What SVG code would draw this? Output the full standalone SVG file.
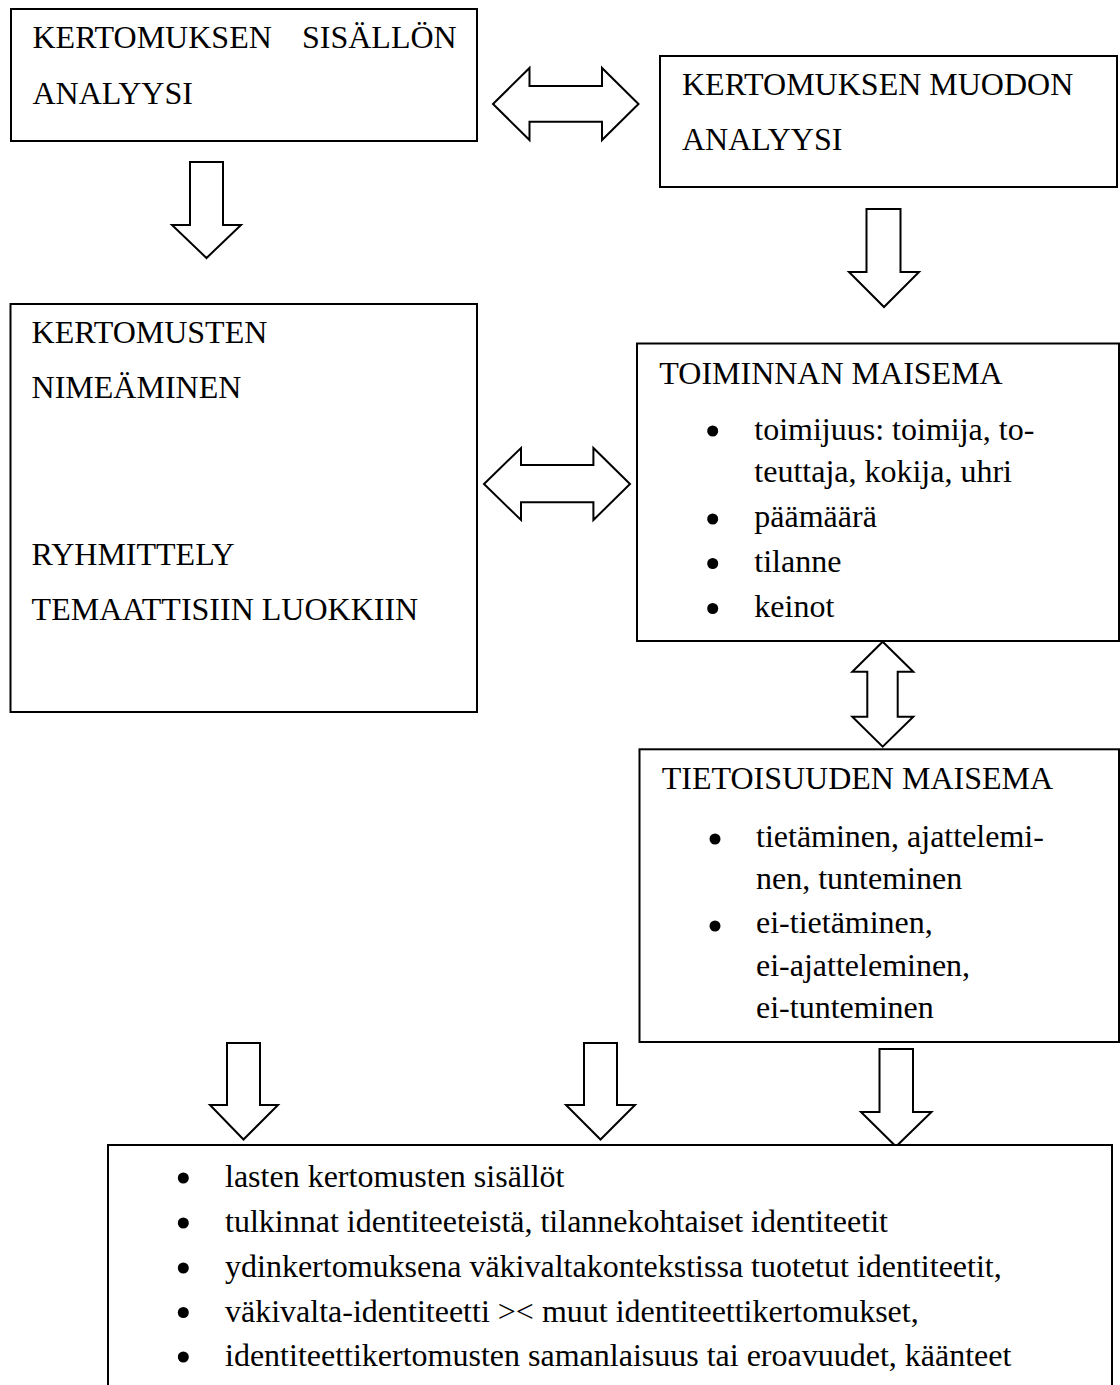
<svg xmlns="http://www.w3.org/2000/svg" width="1120" height="1385" viewBox="0 0 1120 1385">
<style>
.box{fill:#fff;stroke:#000;stroke-width:2}
.arr{fill:#fff;stroke:#000;stroke-width:2;stroke-linejoin:miter}
text{font-family:"Liberation Serif","Times New Roman",serif;font-size:32px;fill:#000}
.bul{fill:#000}
</style>
<rect width="1120" height="1385" fill="#fff"/>
<g id="connectors">
<path class="arr" d="M190,162 H223 V225 H241 L206.5,258 L172,225 H190 Z"/>
<path class="arr" d="M866.5,209 H900.5 V272 H919 L884,307 L849,272 H866.5 Z"/>
<path class="arr" d="M493,104 L529.5,68 V86 H602 V68 L638.5,104 L602,140 V121.7 H529.5 V140 Z"/>
<path class="arr" d="M484,484 L521,448 V465 H593.4 V448 L630,484 L593.4,520 V502.3 H521 V520 Z"/>
<path class="arr" d="M882.7,641.7 L913.3,671.7 H897.7 V716.7 H913.3 L882.7,746.7 L852.3,716.7 H867.3 V671.7 H852.3 Z"/>
<path class="arr" d="M227,1043 H260 V1105 H278 L243.5,1139.5 L210,1105 H227 Z"/>
<path class="arr" d="M584,1043 H617 V1105 H635 L600.5,1139.5 L566,1105 H584 Z"/>
<path class="arr" d="M879.5,1049 H913 V1112 H931.5 L896,1146.5 L861,1112 H879.5 Z"/>
</g>
<g id="sisallon">
<rect class="box" x="11" y="9" width="466" height="132"/>
<text y="48.3"><tspan x="32.5">KERTOMUKSEN</tspan><tspan x="302">SISÄLLÖN</tspan></text>
<text x="32.5" y="104">ANALYYSI</text>
</g>
<g id="muodon">
<rect class="box" x="660" y="56" width="457" height="131"/>
<text x="682" y="95">KERTOMUKSEN MUODON</text>
<text x="682" y="150">ANALYYSI</text>
</g>
<g id="nimeaminen">
<rect class="box" x="10.5" y="304" width="466.5" height="408"/>
<text x="31.6" y="343.3">KERTOMUSTEN</text>
<text x="31.6" y="398.3">NIMEÄMINEN</text>
<text x="31.6" y="565">RYHMITTELY</text>
<text x="31.6" y="620">TEMAATTISIIN LUOKKIIN</text>
</g>
<g id="toiminnan">
<rect class="box" x="637" y="343.5" width="482" height="297.5"/>
<text x="659.3" y="383.5">TOIMINNAN MAISEMA</text>
<circle class="bul" cx="712.7" cy="431" r="5.5"/>
<text x="754.3" y="440">toimijuus: toimija, to-</text>
<text x="754.3" y="482">teuttaja, kokija, uhri</text>
<circle class="bul" cx="712.7" cy="519" r="5.5"/>
<text x="754.3" y="527.3">päämäärä</text>
<circle class="bul" cx="712.7" cy="563.5" r="5.5"/>
<text x="754.3" y="572">tilanne</text>
<circle class="bul" cx="712.7" cy="608.5" r="5.5"/>
<text x="754.3" y="616.7">keinot</text>
</g>
<g id="tietoisuuden">
<rect class="box" x="639.5" y="749.3" width="479.5" height="292.7"/>
<text x="661.7" y="789.3">TIETOISUUDEN MAISEMA</text>
<circle class="bul" cx="715" cy="839" r="5.5"/>
<text x="756" y="846.5">tietäminen, ajattelemi-</text>
<text x="756" y="889">nen, tunteminen</text>
<circle class="bul" cx="715" cy="926" r="5.5"/>
<text x="756" y="933.3">ei-tietäminen,</text>
<text x="756" y="975.5">ei-ajatteleminen,</text>
<text x="756" y="1018.3">ei-tunteminen</text>
</g>
<g id="tulokset">
<path class="box" d="M108,1400 V1145 H1112 V1400"/>
<circle class="bul" cx="183.3" cy="1178" r="5.5"/>
<text x="225" y="1187">lasten kertomusten sisällöt</text>
<circle class="bul" cx="183.3" cy="1223" r="5.5"/>
<text x="225" y="1232">tulkinnat identiteeteistä, tilannekohtaiset identiteetit</text>
<circle class="bul" cx="183.3" cy="1268" r="5.5"/>
<text x="225" y="1277">ydinkertomuksena väkivaltakontekstissa tuotetut identiteetit,</text>
<circle class="bul" cx="183.3" cy="1312.5" r="5.5"/>
<text x="225" y="1321.5">väkivalta-identiteetti &gt;&lt; muut identiteettikertomukset,</text>
<circle class="bul" cx="183.3" cy="1357" r="5.5"/>
<text x="225" y="1366">identiteettikertomusten samanlaisuus tai eroavuudet, käänteet</text>
</g>
</svg>
